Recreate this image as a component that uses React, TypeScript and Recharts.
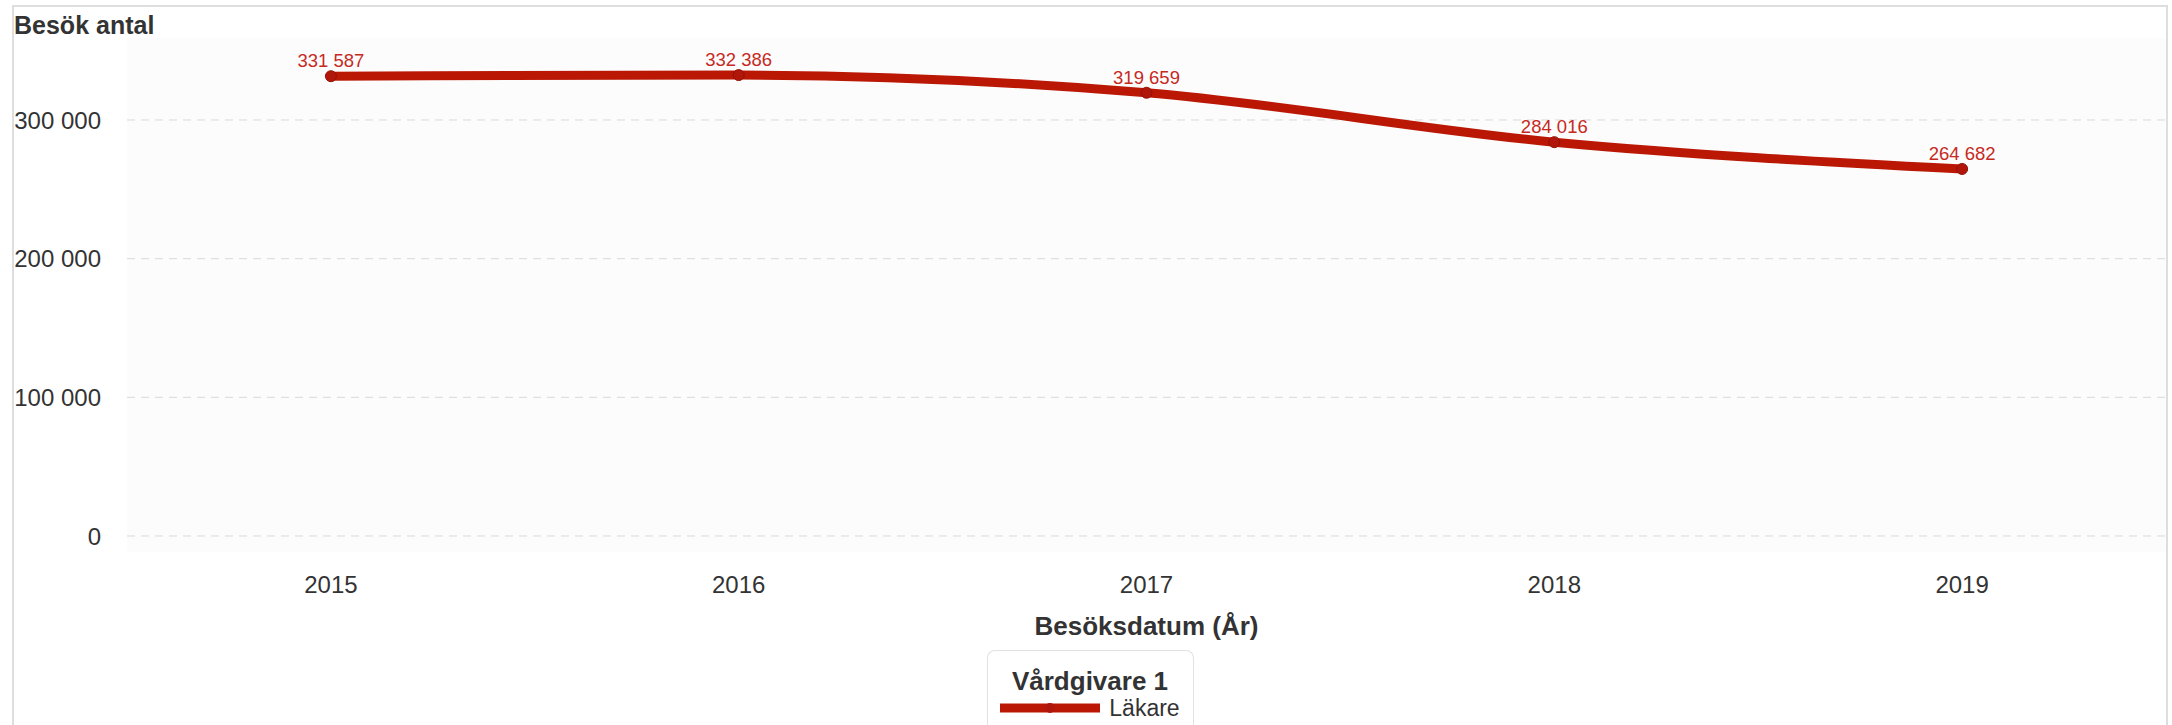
import { LineChart, Line, XAxis, YAxis, CartesianGrid, LabelList, Legend, Label } from "recharts";

const years = ["2015", "2016", "2017", "2018", "2019"];
const lakare = [331587, 332386, 319659, 284016, 264682];
const yTicks = [0, 100000, 200000, 300000];
const seriesName = "Läkare";
const legendTitle = "Vårdgivare 1";
const yTitle = "Besök antal";
const xTitle = "Besöksdatum (År)";

const data = years.map((year, i) => ({ year, lakare: lakare[i] }));

const RED = "#ba1805";
const LABEL_RED = "#c62a1e";
const TEXT = "#333";
const FONT = '"Liberation Sans", Arial, sans-serif';

function fmt(v: number) {
  return String(v).replace(/\B(?=(\d{3})+(?!\d))/g, " ");
}

function LegendBox() {
  return (
    <div
      style={{
        width: 207,
        height: 75,
        margin: "0 auto",
        boxSizing: "border-box",
        border: "1.5px solid #e2e2e2",
        borderBottom: "none",
        borderRadius: "8px 8px 0 0",
        color: TEXT,
        textAlign: "center",
        fontFamily: FONT,
      }}
    >
      <div style={{ fontSize: 26, fontWeight: "bold", lineHeight: "30px", paddingTop: 15 }}>{legendTitle}</div>
      <div style={{ display: "flex", justifyContent: "center", alignItems: "center", height: 24 }}>
        <svg width={100} height={24}>
          <line x1={0} x2={100} y1={12} y2={12} stroke={RED} strokeWidth={9} />
          <circle cx={50} cy={12} r={5} fill="#b0170a" />
        </svg>
        <span style={{ fontSize: 23, lineHeight: "24px", marginLeft: 9 }}>{seriesName}</span>
      </div>
    </div>
  );
}

export default function App() {
  return (
    <div
      style={{
        position: "absolute",
        left: 12,
        top: 5,
        width: 2152,
        height: 718,
        borderTop: "2px solid #dedede",
        borderLeft: "2px solid #dedede",
        borderRight: "2px solid #dedede",
        background: "#fff",
        fontFamily: FONT,
      }}
    >
      <div
        style={{
          position: "absolute",
          left: 0,
          top: 6,
          fontSize: 25,
          lineHeight: "25px",
          fontWeight: "bold",
          color: TEXT,
        }}
      >
        {yTitle}
      </div>
      <LineChart width={2152} height={718} data={data} margin={{ top: 31, right: 0, bottom: 0, left: 0 }}>
        <CartesianGrid vertical={false} fill="#fcfcfc" stroke="#d9d9d9" strokeDasharray="8 6" syncWithTicks />
        <XAxis
          dataKey="year"
          scale="band"
          axisLine={false}
          tickLine={false}
          tickMargin={18}
          height={98}
          tick={{ fontSize: 24, fill: TEXT }}
        >
          <Label
            value={xTitle}
            position="insideTop"
            offset={65}
            style={{ fontSize: 26, fontWeight: "bold", fill: TEXT }}
          />
        </XAxis>
        <YAxis
          domain={[0, 359135]}
          ticks={yTicks}
          width={113}
          padding={{ bottom: 16 }}
          axisLine={false}
          tickLine={false}
          tickMargin={20}
          tickFormatter={fmt}
          tick={{ fontSize: 24, fill: TEXT }}
        />
        <Legend verticalAlign="bottom" align="center" content={<LegendBox />} />
        <Line
          type="monotone"
          dataKey="lakare"
          name={seriesName}
          stroke={RED}
          strokeWidth={9}
          dot={{ r: 5.5, fill: "#b0170a", stroke: "#931107", strokeWidth: 1 }}
          activeDot={false}
          isAnimationActive={false}
        >
          <LabelList
            dataKey="lakare"
            position="top"
            offset={9}
            formatter={(v: any) => fmt(Number(v))}
            style={{ fontSize: 18.5, fill: LABEL_RED }}
          />
        </Line>
      </LineChart>
    </div>
  );
}
